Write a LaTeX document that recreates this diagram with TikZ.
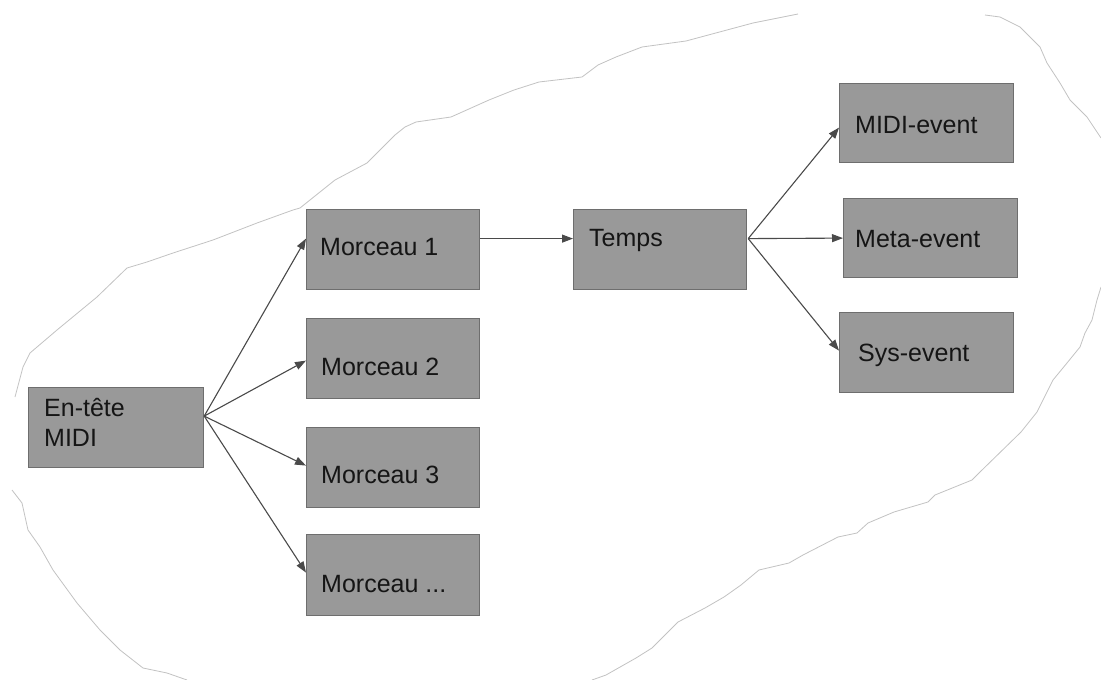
\documentclass[tikz,border=0pt]{standalone}
\usepackage{fontspec}
\setmainfont{Liberation Sans}
\usetikzlibrary{arrows.meta}
\definecolor{boxfill}{HTML}{999999}
\definecolor{boxedge}{HTML}{6E6E6E}
\definecolor{arrowgray}{HTML}{4A4A4A}
\definecolor{outlinegray}{HTML}{C2C2C2}
\definecolor{textdark}{HTML}{151515}
\tikzset{
  stagebox/.style={draw=boxedge, fill=boxfill, line width=1.2pt, inner sep=0pt, anchor=north west},
  boxtext/.style={anchor=base west, inner sep=0pt, text=textdark, font=\fontsize{25}{30}\selectfont},
  flow/.style={draw=arrowgray, line width=1.1pt, -{Triangle[length=11pt,width=8pt]}},
  cloud/.style={draw=outlinegray, line width=0.8pt, line join=round},
}
\begin{document}
\begin{tikzpicture}[x=1pt,y=-1pt]
\useasboundingbox (0,0) rectangle (1101,680);

% hand-drawn boundary around the file structure
\draw[cloud] (798,14) -- (753,23) -- (686,41) -- (642,47) -- (616,57) -- (598,65)
  -- (582,77) -- (539,82) -- (514,90) -- (489,100) -- (451,117) -- (416,122)
  -- (405,127) -- (395,135) -- (367,163) -- (335,180) -- (300,208) -- (293,210)
  -- (257,223) -- (213,240) -- (173,253) -- (147,262) -- (127,268) -- (97,297)
  -- (57,330) -- (30,353) -- (23,367) -- (15,397);
\draw[cloud] (12,490) -- (22,503) -- (28,530) -- (40,547) -- (53,570) -- (77,603)
  -- (100,630) -- (120,650) -- (143,668) -- (167,673) -- (187,680);
\draw[cloud] (592,680) -- (606,675) -- (636,658) -- (652,648) -- (678,622)
  -- (705,608) -- (724,597) -- (741,585) -- (759,570) -- (789,563) -- (803,555)
  -- (838,537) -- (857,533) -- (868,523) -- (894,512) -- (928,502) -- (935,495)
  -- (972,480) -- (980,472) -- (1021,432) -- (1037,412) -- (1053,380)
  -- (1067,363) -- (1080,347) -- (1085,333) -- (1092,320) -- (1097,300) -- (1101,287);
\draw[cloud] (985,15) -- (1000,17) -- (1020,27) -- (1040,47) -- (1047,63)
  -- (1060,83) -- (1070,100) -- (1087,117) -- (1101,138);

% boxes
\node[stagebox, minimum width=175pt, minimum height=80pt] (head) at (28,387) {};
\node[stagebox, minimum width=173pt, minimum height=80pt] (m1) at (306,209) {};
\node[stagebox, minimum width=173pt, minimum height=80pt] (m2) at (306,318) {};
\node[stagebox, minimum width=173pt, minimum height=80pt] (m3) at (306,427) {};
\node[stagebox, minimum width=173pt, minimum height=81pt] (mn) at (306,534) {};
\node[stagebox, minimum width=173pt, minimum height=80pt] (temps) at (573,209) {};
\node[stagebox, minimum width=174pt, minimum height=79pt] (midi) at (839,83) {};
\node[stagebox, minimum width=174pt, minimum height=79pt] (meta) at (843,198) {};
\node[stagebox, minimum width=174pt, minimum height=80pt] (sys) at (839,312) {};

% labels
\node[boxtext] (headA) at (44,416) {En-tête};
\node[boxtext] (headB) at (44,446) {MIDI};
\node[boxtext] (m1t) at (320,255) {Morceau 1};
\node[boxtext] (m2t) at (321,375) {Morceau 2};
\node[boxtext] (m3t) at (321,483) {Morceau 3};
\node[boxtext] (mnt) at (321,592) {Morceau ...};
\node[boxtext] (tempst) at (589,246) {Temps};
\node[boxtext] (midit) at (855,133) {MIDI-event};
\node[boxtext] (metat) at (855,247) {Meta-event};
\node[boxtext] (syst) at (858,361) {Sys-event};

% connectors
\coordinate (hs) at ([yshift=11.5pt]head.east);
\coordinate (ts) at ([xshift=1pt,yshift=11pt]temps.east);
\draw[flow] (hs) -- ([yshift=11pt]m1.west);
\draw[flow] (hs) -- ([yshift=-2pt]m2.west);
\draw[flow] (hs) -- ([yshift=2pt]m3.west);
\draw[flow] (hs) -- ([yshift=2.5pt]mn.west);
\draw[flow] ([yshift=11pt]m1.east) -- ([yshift=11pt]temps.west);
\draw[flow] (ts) -- ([yshift=-4.5pt]midi.west);
\draw[flow] (ts) -- (meta.west);
\draw[flow] (ts) -- ([yshift=2pt]sys.west);
\end{tikzpicture}
\end{document}
